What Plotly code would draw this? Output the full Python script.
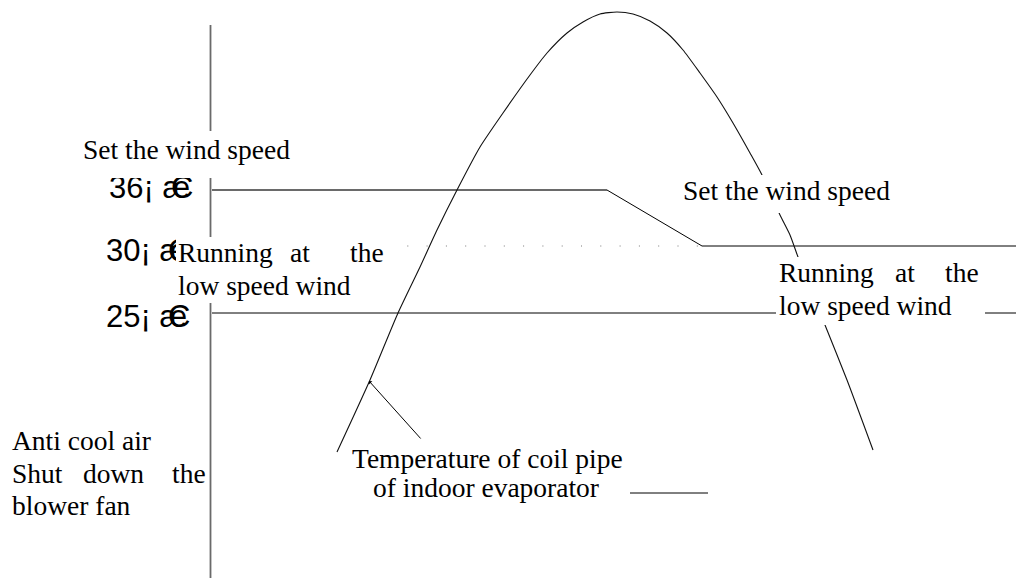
import plotly.graph_objects as go

# diagram drawn on a pixel-like grid: x 0..1024, y 0..580 (y downwards)
curve_x = [337, 370, 398, 420, 437, 457, 480, 503, 530, 547, 567, 583, 600, 617,
           633, 650, 667, 683, 700, 717, 733, 750, 762, 780, 790, 798, 825, 847, 873]
curve_y = [452, 380, 313, 267, 230, 190, 147, 113, 75, 53, 33, 22, 14, 12,
           14, 21, 33, 50, 73, 97, 123, 153, 175, 215, 235, 257, 325, 380, 450]

axis_x = [210.5, 210.5]
axis_y = [25, 578]

high_x = [212, 607]
high_y = [190, 190]
drop_x = [607, 702, 1024]
drop_y = [190, 246, 246]
dotted_x = [388, 702]
dotted_y = [246, 246]
low_x = [212, 1020]
low_y = [313, 313]
note_x = [630, 708]
note_y = [493, 493]

level_labels = ["36¡ æ", "30¡ æ", "25¡ æ"]
level_label_x = [107, 104, 104]
level_label_y = [187, 250, 316]

SERIF = "Liberation Serif, Times New Roman, serif"
SANS = "Liberation Sans, Arial, sans-serif"
FS = 27.5
PAGE_PAD = 8  # browser body margin

fig = go.Figure()

def line(xs, ys, color="black", width=1.0, dash=None, shape="linear"):
    fig.add_trace(go.Scatter(
        x=xs, y=ys, mode="lines",
        line=dict(color=color, width=width, dash=dash, shape=shape, smoothing=0.6),
        showlegend=False, hoverinfo="skip"
    ))

line(axis_x, axis_y, color="#6a6a6a", width=1.8)
line(high_x, high_y, color="#6a6a6a", width=1.8)
line(drop_x, drop_y)
line(dotted_x, dotted_y, color="#7a7a7a", width=1, dash="1px,18.3px")
line(low_x, low_y)
line(note_x, note_y)
line(curve_x, curve_y, color="#111111", width=1.1, shape="spline")

annotations = []

# degree labels (drawn first so text boxes can cover them)
for txt, lx, ly in zip(level_labels, level_label_x, level_label_y):
    annotations.append(dict(x=lx, y=ly, text=txt, xanchor="left", yanchor="middle",
                            font=dict(family=SANS, size=31, color="black")))
    annotations.append(dict(x=lx + 62, y=ly, text="C", xanchor="left", yanchor="middle",
                            font=dict(family=SANS, size=31, color="black")))

# white boxes behind the text
boxes = [(80, 131, 213, 47), (176, 237, 213, 66), (680, 175, 212, 38), (776, 257, 209, 68)]
for bx, by, bw, bh in boxes:
    annotations.append(dict(x=bx, y=by, text=" ", xanchor="left", yanchor="top",
                            width=bw, height=bh, bgcolor="white", borderpad=0,
                            borderwidth=0, showarrow=False))

def word(x, y, txt):
    annotations.append(dict(x=x, y=y, text=txt, xanchor="left", yanchor="middle",
                            font=dict(family=SERIF, size=FS, color="black")))

word(81, 149.6, "Set the wind speed")
word(176, 252.6, "Running")
word(288, 252.6, "at")
word(348, 252.6, "the")
word(176, 285.6, "low speed wind")

word(681, 190.6, "Set the wind speed")
word(777, 272.6, "Running")
word(893, 272.6, "at")
word(943, 272.6, "the")
word(777, 305.6, "low speed wind")

word(10, 440.6, "Anti cool air")
word(10, 473.6, "Shut")
word(81, 473.6, "down")
word(170, 473.6, "the")
word(10, 505.6, "blower fan")

word(350, 458.6, "Temperature of coil pipe")
word(371, 487.6, "of indoor evaporator")

# pointer to the curve
annotations.append(dict(x=369, y=381, ax=422, ay=440, axref="x", ayref="y",
                        text="", showarrow=True, arrowhead=1, arrowsize=0.8,
                        arrowwidth=1, arrowcolor="black"))

for a in annotations:
    a.setdefault("showarrow", False)
    a.setdefault("xref", "x")
    a.setdefault("yref", "y")
fig.update_layout(
    annotations=annotations,
    width=1024 - PAGE_PAD, height=580 - PAGE_PAD,
    margin=dict(l=0, r=0, t=0, b=0),
    paper_bgcolor="white", plot_bgcolor="white",
    xaxis=dict(range=[PAGE_PAD, 1024], visible=False, fixedrange=True),
    yaxis=dict(range=[580, PAGE_PAD], visible=False, fixedrange=True),
)

fig.write_html("out.html")
